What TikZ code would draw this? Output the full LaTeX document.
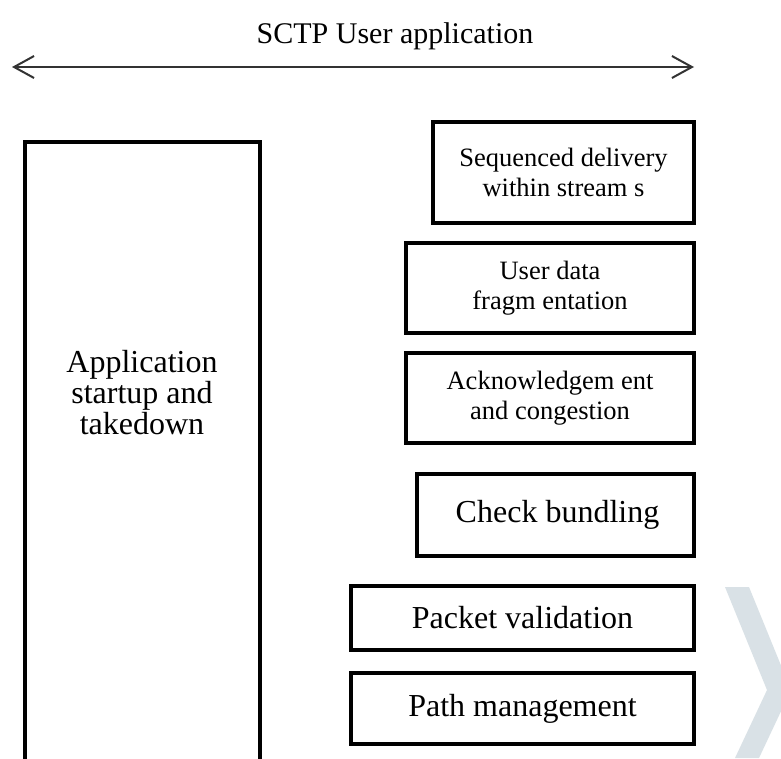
\documentclass[tikz,border=0pt]{standalone}
\usepackage{fontspec}
\setmainfont{Liberation Serif}
\usetikzlibrary{arrows.meta}
\definecolor{chevgrey}{HTML}{D9E1E6}
\tikzset{
  layerbox/.style={draw=black, line width=3.5pt, fill=white, inner sep=0pt, align=center},
  bigtext/.style={font=\fontsize{32}{31}\selectfont, align=center},
  smalltext/.style={font=\fontsize{26.5}{29.5}\selectfont},
  titletext/.style={font=\fontsize{30}{32}\selectfont},
  span/.style={draw=black!80, line width=2.5pt,
    {Straight Barb[length=20pt,width=22pt,line width=2pt]}-{Straight Barb[length=20pt,width=22pt,line width=2pt]}}
}
\begin{document}
\begin{tikzpicture}[x=1pt,y=-1pt]
  \clip (0,0) rectangle (781,758);
  \fill[white] (0,0) rectangle (781,758);

  % decorative chevron in the lower right corner
  \fill[chevgrey] (725,587) -- (749,587) -- (791,690) -- (759,758)
                  -- (735,758) -- (767,690) -- cycle;

  % user application span
  \node[titletext] (title) at (395,36) {SCTP User application};
  \coordinate (spanL) at (12,67);
  \coordinate (spanR) at (694,67);
  \draw[span] (spanL) -- (spanR);

  % application startup column (open at the bottom)
  \draw[line width=3.5pt] (25,790) -- (25,142) -- (260,142) -- (260,790);
  \node[bigtext] (app) at (142,393) {Application\\startup and\\takedown};

  % protocol function layers
  \node[layerbox, smalltext, minimum width=261pt, minimum height=101pt]
    (seq) at (563.5,172.5) {Sequenced delivery\\within stream s};
  \node[layerbox, smalltext, minimum width=288pt, minimum height=90pt]
    (frag) at (550,288) {User data\\fragm entation};
  \node[layerbox, smalltext, minimum width=288pt, minimum height=90pt]
    (ack) at (550,398) {Acknowledgem ent\\and congestion};
  \node[layerbox, bigtext, minimum width=277pt, minimum height=82pt]
    (chk) at (555.5,515) {\hspace*{4pt}Check bundling};
  \node[layerbox, bigtext, minimum width=343pt, minimum height=64pt]
    (pkt) at (522.5,618) {Packet validation};
  \node[layerbox, bigtext, minimum width=343pt, minimum height=71pt]
    (path) at (522.5,708.5) {Path management};
\end{tikzpicture}
\end{document}
